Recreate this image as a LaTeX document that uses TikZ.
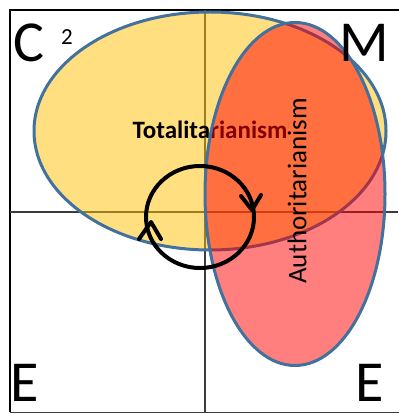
\documentclass[tikz,border=0pt]{standalone}
\usepackage{fontspec}
\setmainfont{Carlito}
\usetikzlibrary{shapes.geometric}
\definecolor{gold}{RGB}{255,192,0}
\definecolor{redf}{RGB}{255,0,0}
\definecolor{outl}{RGB}{65,113,156}
\definecolor{axisc}{RGB}{60,60,60}
\tikzset{
  axisline/.style={draw=axisc, line width=1.3pt},
  blob/.style={ellipse, inner sep=0pt, draw=outl, line width=3pt},
  big/.style={inner sep=0pt, font=\fontsize{58}{60}\selectfont},
  lbl/.style={inner sep=0pt, font=\fontsize{25}{28}\selectfont},
  cyc/.style={draw=black, line width=4pt, line cap=round, line join=round}
}
\begin{document}
\begin{tikzpicture}[x=1pt,y=-1pt]
\useasboundingbox (0,0) rectangle (398,414);
\fill[white] (0,0) rectangle (398,414);
% frame
\draw[line width=2.8pt] (10,412) -- (10,10) -- (404,10);
\draw[line width=1.8pt,draw=axisc] (10,412.5) -- (404,412.5);
% axes
\coordinate (vt) at (205,10);
\coordinate (vb) at (205,413);
\coordinate (hl) at (10,212);
\coordinate (hr) at (398,212);
\draw[axisline] (vt) -- (vb);
\draw[axisline] (hl) -- (hr);
% yellow ellipse
\node[blob, fill=gold, fill opacity=0.5, minimum width=352pt, minimum height=238pt] (tot) at (210,131) {};
\node[lbl, font=\fontsize{25}{28}\selectfont\bfseries] (totl) at (210,130) {Totalitarianism};
% red ellipse
\node[blob, fill=redf, fill opacity=0.5, minimum width=180pt, minimum height=343pt] (aut) at (295,194) {};
\node[lbl, font=\fontsize{27}{30}\selectfont, rotate=90] (autl) at (297,191) {Authoritarianism};
% cycle
\node[ellipse, cyc, minimum width=108pt, minimum height=102pt, inner sep=0pt] (cyc) at (200,217) {};
\coordinate (ra) at (241,196);
\coordinate (rt) at (252,210);
\coordinate (rb) at (261,195);
\coordinate (la) at (139,239);
\coordinate (lt) at (151,222);
\coordinate (lb) at (161,239);
\draw[cyc] (ra) -- (rt) -- (rb);
\draw[cyc] (la) -- (lt) -- (lb);
% corner letters
\node[big, anchor=base west] (c) at (13,62) {C};
\node[inner sep=0pt, anchor=base west, font=\fontsize{23}{26}\selectfont] (two) at (61,45) {2};
\node[big, anchor=base east] (m) at (389,62) {M};
\node[big, anchor=base west] (el) at (10,401) {E};
\node[big, anchor=base east] (er) at (384,401) {E};
\end{tikzpicture}
\end{document}
